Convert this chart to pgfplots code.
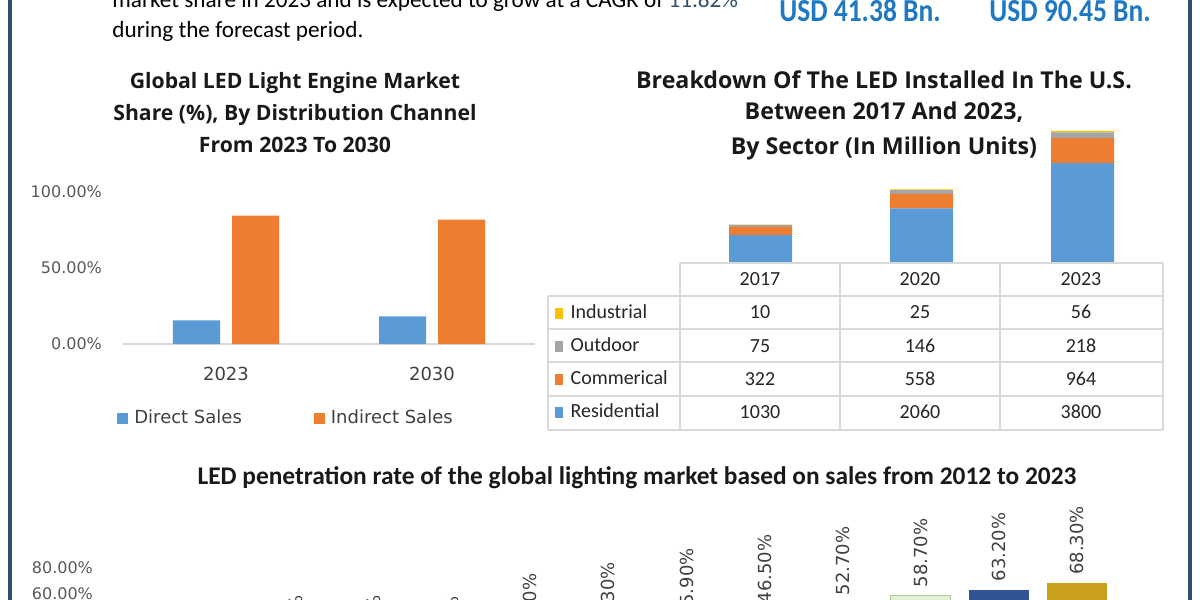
\documentclass[border=0pt]{standalone}
\usepackage{pgfplots}
\pgfplotsset{compat=1.18}
\usepackage{fontspec}
\setmainfont{Carlito}
\newfontfamily\cc[FakeStretch=0.86]{Carlito}
\newfontfamily\dv{DejaVu Sans}
\newfontfamily\os{Open Sans}
\definecolor{cblue}{HTML}{5B9BD5}
\definecolor{corange}{HTML}{ED7D31}
\definecolor{cgray}{HTML}{A5A5A5}
\definecolor{cyellow}{HTML}{FFC000}
\definecolor{border}{HTML}{2F4F6F}
\definecolor{usd}{HTML}{1F78C1}
\definecolor{tickc}{HTML}{595959}
\definecolor{gridc}{HTML}{D9D9D9}
\definecolor{b01}{HTML}{4472C4}
\definecolor{b02}{HTML}{ED7D31}
\definecolor{b03}{HTML}{A5A5A5}
\definecolor{b04}{HTML}{FFC000}
\definecolor{b05}{HTML}{5B9BD5}
\definecolor{b06}{HTML}{70AD47}
\definecolor{b07}{HTML}{264478}
\definecolor{b08}{HTML}{9E480E}
\definecolor{b09}{HTML}{636363}
\definecolor{b10}{HTML}{E2F0D9}
\definecolor{b10e}{HTML}{A9D18E}
\definecolor{b11}{HTML}{2F5597}
\definecolor{b12}{HTML}{C9A01C}
\begin{document}
\begin{tikzpicture}
\path[use as bounding box] (0pt,0pt) rectangle (600pt,-300pt);
\clip (0pt,0pt) rectangle (600pt,-300pt);
\fill[white] (0pt,0pt) rectangle (600pt,-300pt);

% ---------- Left chart: distribution channel ----------
\begin{axis}[
  at={(61.5pt,-172pt)}, anchor=south west, scale only axis,
  width=206pt, height=76pt,
  /pgf/number format/assume math mode=true,
  xmin=-0.5, xmax=1.5, ymin=0, ymax=100,
  axis x line*=bottom, axis y line*=left,
  y axis line style={draw=none}, x axis line style={draw=gridc, line width=0.6pt},
  major tick length=0pt,
  xtick={0,1}, xticklabels={2023,2030},
  ytick={0,50,100},
  yticklabel={\pgfmathprintnumber[fixed,fixed zerofill,precision=2]{\tick}\%},
  yticklabel style={font=\dv\fontsize{8}{10}\selectfont, text=tickc, xshift=-7pt},
  xticklabel style={font=\dv\fontsize{9}{11}\selectfont, text=black!75, yshift=-8pt},
  ybar, bar width=23.5pt,
  legend columns=2,
  legend image code/.code={\draw[#1,/tikz/.cd,draw=none] (0pt,-2.75pt) rectangle (5.5pt,2.75pt);},
  legend style={at={(-0.0146,-0.487)}, anchor=west, draw=none, fill=none, inner sep=0pt,
    font=\dv\fontsize{9}{11}\selectfont, text=black!75,
    /tikz/every even column/.append style={column sep=34pt},
    /tikz/every odd column/.append style={column sep=1pt}},
]
\addplot[fill=cblue, draw=none, bar shift=-14.75pt] coordinates {(0,15.5) (1,18.2)};
\addlegendentry{Direct Sales}
\addplot[fill=corange, draw=none, bar shift=14.75pt] coordinates {(0,84.5) (1,81.8)};
\addlegendentry{Indirect Sales}
\end{axis}

% ---------- Right chart: LED installed in U.S. ----------
\begin{axis}[
  at={(340pt,-131pt)}, anchor=south west, scale only axis,
  width=241.5pt, height=71pt,
  xmin=-0.5, xmax=2.5, ymin=0, ymax=5460,
  axis lines=none, xtick=\empty, ytick=\empty,
  ybar stacked, bar width=31.5pt,
  reverse legend,
  legend cell align=left,
  legend image code/.code={\draw[#1,/tikz/.cd,draw=none] (0pt,-2.4pt) rectangle (3.6pt,3.1pt);},
  legend style={at={(-0.2588,-0.31)}, anchor=north west, draw=none, fill=none, inner sep=0pt,
    row sep=8.5pt,
    nodes={inner sep=0pt, text height=6pt, text depth=2pt},
    font=\fontsize{10}{12}\selectfont, text=black!85,
    /tikz/every odd column/.append style={column sep=4pt}},
]
\addplot[fill=cblue, draw=none] coordinates {(0,1030) (1,2060) (2,3800)};
\addlegendentry{Residential}
\addplot[fill=corange, draw=none] coordinates {(0,322) (1,558) (2,964)};
\addlegendentry{Commerical}
\addplot[fill=cgray, draw=none] coordinates {(0,75) (1,146) (2,218)};
\addlegendentry{Outdoor}
\addplot[fill=cyellow, draw=none] coordinates {(0,10) (1,25) (2,56)};
\addlegendentry{Industrial}
\end{axis}

% ---------- Bottom chart: penetration rate ----------
\begin{axis}[
  at={(52.5pt,-336pt)}, anchor=south west, scale only axis,
  width=512.5pt, height=52pt,
  /pgf/number format/assume math mode=true,
  xmin=-1.447, xmax=11.68, ymin=0, ymax=80,
  axis lines*=left, axis line style={draw=none},
  major tick length=0pt, xtick=\empty,
  ytick={0,20,40,60,80},
  yticklabel={\pgfmathprintnumber[fixed,fixed zerofill,precision=2]{\tick}\%},
  yticklabel style={font=\dv\fontsize{8}{10}\selectfont, text=tickc, xshift=-2.5pt},
  clip=false,
  ybar, bar width=30pt,
  nodes near coords={\pgfmathprintnumber[fixed,fixed zerofill,precision=2]{\pgfplotspointmeta}\%},
  nodes near coords style={rotate=90, anchor=west, inner sep=4pt, font=\dv\fontsize{9}{11}\selectfont, text=black!75},
]
\addplot[fill=b01, draw=none, bar shift=0pt] coordinates {(0,4.5)};
\addplot[fill=b02, draw=none, bar shift=0pt] coordinates {(1,8.2)};
\addplot[fill=b03, draw=none, bar shift=0pt] coordinates {(2,8.5)};
\addplot[fill=b04, draw=none, bar shift=0pt] coordinates {(3,8.0)};
\addplot[fill=b05, draw=none, bar shift=0pt] coordinates {(4,16.5)};
\addplot[fill=b06, draw=none, bar shift=0pt] coordinates {(5,25.3)};
\addplot[fill=b07, draw=none, bar shift=0pt] coordinates {(6,35.9)};
\addplot[fill=b08, draw=none, bar shift=0pt] coordinates {(7,46.5)};
\addplot[fill=b09, draw=none, bar shift=0pt] coordinates {(8,52.7)};
\addplot[fill=b10, draw=b10e, bar shift=0pt] coordinates {(9,58.7)};
\addplot[fill=b11, draw=none, bar shift=0pt] coordinates {(10,63.2)};
\addplot[fill=b12, draw=none, bar shift=0pt] coordinates {(11,68.3)};
\end{axis}

% ---------- texts, table, borders (pixel units) ----------
\begin{scope}[x=0.5pt, y=-0.5pt]
\fill[border] (8,0) rectangle (12,600);
\fill[border] (1188,0) rectangle (1192,600);

\node[anchor=base west, inner sep=0pt, font=\fontsize{11.6}{13}\selectfont] at (112,7)
  {market share in 2023 and is expected to grow at a CAGR of \textcolor{border}{11.82\%}};
\node[anchor=base west, inner sep=0pt, font=\fontsize{11.6}{13}\selectfont] at (112,37)
  {during the forecast period.};
\node[anchor=base, inner sep=0pt, font=\cc\bfseries\fontsize{16}{19}\selectfont, text=usd] at (860,21) {USD 41.38 Bn.};
\node[anchor=base, inner sep=0pt, font=\cc\bfseries\fontsize{16}{19}\selectfont, text=usd] at (1070,21) {USD 90.45 Bn.};

\node[align=center, inner sep=0pt, font=\os\bfseries\fontsize{10.6}{16}\selectfont, text=black!90] at (295,113)
  {Global LED Light Engine Market\\Share (\%), By Distribution Channel\\From 2023 To 2030};

\node[inner sep=0pt, font=\os\bfseries\fontsize{11.6}{13}\selectfont, text=black!90] at (884,80) {Breakdown Of The LED Installed In The U.S.};
\node[inner sep=0pt, font=\os\bfseries\fontsize{11.6}{13}\selectfont, text=black!90] at (884,112) {Between 2017 And 2023,};
\node[inner sep=0pt, font=\os\bfseries\fontsize{11.6}{13}\selectfont, text=black!90] at (884,148) {By Sector (In Million Units)};

% data table grid
\draw[gridc, line width=0.6pt] (680,263) -- (1163,263);
\foreach \yy in {296,329,362,396,430} {\draw[gridc, line width=0.6pt] (548,\yy) -- (1163,\yy);}
\foreach \xx in {680,840,1000,1163} {\draw[gridc, line width=0.6pt] (\xx,263) -- (\xx,430);}
\draw[gridc, line width=0.6pt] (548,296) -- (548,430);
\begin{scope}[every node/.style={inner sep=0pt, font=\fontsize{10}{12}\selectfont, text=black!85}]
\node at (760,279) {2017}; \node at (920,279) {2020}; \node at (1081,279) {2023};
\node at (760,312) {10};   \node at (920,312) {25};   \node at (1081,312) {56};
\node at (760,346) {75};   \node at (920,346) {146};  \node at (1081,346) {218};
\node at (760,379) {322};  \node at (920,379) {558};  \node at (1081,379) {964};
\node at (760,412) {1030}; \node at (920,412) {2060}; \node at (1081,412) {3800};
\end{scope}

\node[inner sep=0pt, font=\bfseries\fontsize{12.7}{15}\selectfont, text=black!90] at (637,478)
  {LED penetration rate of the global lighting market based on sales from 2012 to 2023};
\end{scope}
\end{tikzpicture}
\end{document}
